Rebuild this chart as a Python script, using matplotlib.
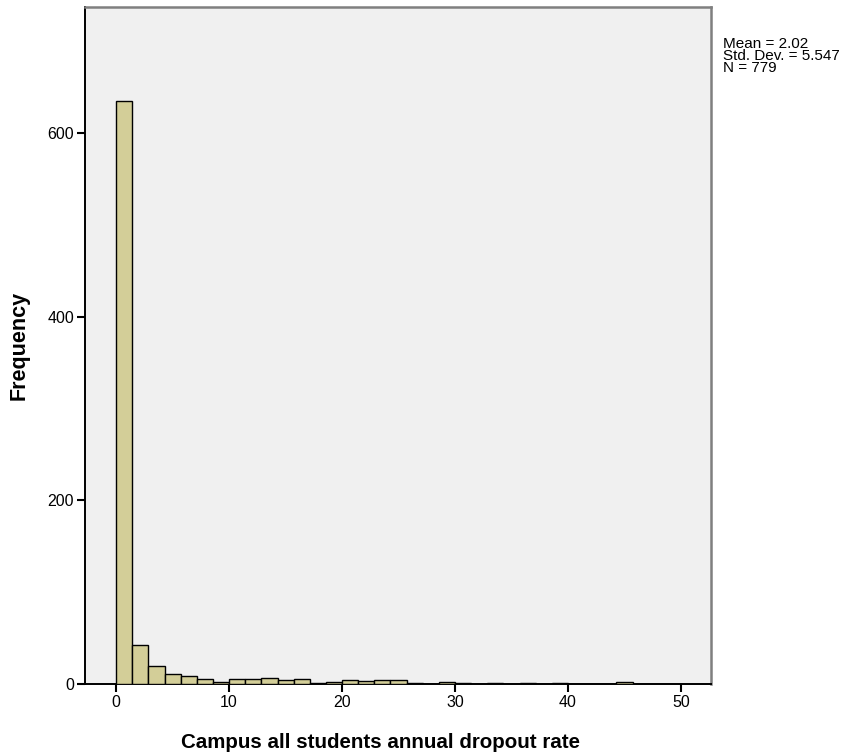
import numpy as np
import matplotlib
matplotlib.use("Agg")
import matplotlib.pyplot as plt

plt.rcParams['font.family'] = ['Liberation Sans', 'DejaVu Sans']

# Histogram counts (35 bins of width 50/35 from 0 to 50)
bin_edges = np.linspace(0, 50, 36)
counts = [635, 42, 20, 11, 9, 6, 2, 5, 6, 7, 4, 5,
          1, 2, 4, 3, 4, 4, 1, 0, 2, 1, 0, 1, 0, 1, 0, 1,
          0, 0, 0, 2, 0, 0, 0]
stats_text = "Mean = 2.02\nStd. Dev. = 5.547\nN = 779"
xticks = [0, 10, 20, 30, 40, 50]
yticks = [0, 200, 400, 600]

fig = plt.figure(figsize=(8.51, 7.55), dpi=100)
ax = fig.add_axes([0.100, 0.0940, 0.7355, 0.8967])
ax.set_facecolor('#F0F0F0')

ax.bar(bin_edges[:-1], counts, width=np.diff(bin_edges), align='edge',
       color='#D3CE98', edgecolor='black', linewidth=1.0, zorder=3)

ax.set_xlim(-2.75, 52.66)
ax.set_ylim(0, 737)
ax.set_xticks(xticks)
ax.set_yticks(yticks)
ax.tick_params(direction='out', length=6, width=1.5, labelsize=11.5,
               colors='black', pad=2)

for side in ['top', 'right']:
    ax.spines[side].set_color('#7F7F7F')
    ax.spines[side].set_linewidth(1.8)
for side in ['left', 'bottom']:
    ax.spines[side].set_color('black')
    ax.spines[side].set_linewidth(1.4)

ax.set_xlabel('Campus all students annual dropout rate', fontsize=14.8,
              fontweight='bold')
ax.xaxis.set_label_coords(0.472, -0.073)
ax.set_ylabel('Frequency', fontsize=15.5, fontweight='bold')
ax.yaxis.set_label_coords(-0.089, 0.5)

fig.text(723 / 851, 1 - 37 / 755, stats_text, fontsize=11, va='top', ha='left',
         linespacing=0.84)

fig.savefig('out.png', dpi=100, facecolor='white')
